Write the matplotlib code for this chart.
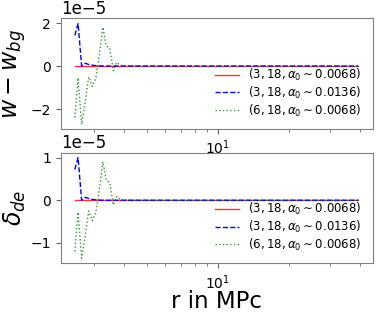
import matplotlib
matplotlib.use("Agg")
import matplotlib.pyplot as plt

# radii (MPc)
r = [2.48, 2.56, 2.65, 2.75, 2.84, 2.94, 3.04, 3.15, 3.26, 3.37, 3.49, 3.61,
     3.73, 3.86, 4.00, 4.14, 4.3, 4.6, 5.0, 5.5, 6.0, 7.0, 8.0, 9.0, 10.0,
     12.0, 14.0, 17.0, 20.0, 24.0, 28.0, 33.0, 39.4]

labels = [r"$(3, 18, \alpha_0 \sim 0.0068)$",
          r"$(3, 18, \alpha_0 \sim 0.0136)$",
          r"$(6, 18, \alpha_0 \sim 0.0068)$"]

# w - w_bg (units of 1e-5)
w_red = [0.0] * 33
w_blue = [1.42, 1.98, 0.0, 0.13, 0.07, 0.04, 0.02, 0.01] + [0.0] * 25
w_green = [-2.4, -0.55, -2.7, -1.6, -0.5, -0.95, -0.6, 0.5, 1.8, 0.94, 0.82,
           -0.22, 0.17, 0.05, -0.02, 0.03] + [0.0] * 17

# delta_de (units of 1e-5)
d_red = [0.0] * 33
d_blue = [0.72, 1.0, 0.0, 0.07, 0.04, 0.02, 0.01, 0.005] + [0.0] * 25
d_green = [-1.2, -0.28, -1.36, -0.8, -0.25, -0.48, -0.3, 0.25, 0.9, 0.47, 0.41,
           -0.11, 0.085, 0.025, -0.01, 0.015] + [0.0] * 17

scale = 1e-5
fig = plt.figure(figsize=(3.79, 3.12), dpi=100)
ax1 = fig.add_axes([0.160, 0.586, 0.823, 0.355])
ax2 = fig.add_axes([0.160, 0.156, 0.823, 0.355])

for ax, ys, ylab in [(ax1, (w_red, w_blue, w_green), r"$w - w_{bg}$"),
                     (ax2, (d_red, d_blue, d_green), r"$\delta_{de}$")]:
    ax.plot(r, [v * scale for v in ys[0]], color="red", ls="-", lw=1, alpha=0.8, label=labels[0])
    ax.plot(r, [v * scale for v in ys[1]], color="blue", ls="--", lw=1, label=labels[1])
    ax.plot(r, [v * scale for v in ys[2]], color="green", ls=":", lw=1, alpha=0.8, label=labels[2])
    ax.set_xscale("log")
    ax.set_ylabel(ylab, fontsize=17, labelpad=2)
    ax.tick_params(labelsize=10, colors="black")
    ax.tick_params(which="both", color="0.4")
    ax.yaxis.get_offset_text().set_fontsize(12)
    for s in ax.spines.values():
        s.set_color("0.5")
    ax.legend(loc="lower right", fontsize=8.5, frameon=False, labelspacing=0.15)

ax1.set_yticks([-2e-5, 0, 2e-5])
ax2.set_yticks([-1e-5, 0, 1e-5])
ax2.set_xlabel("r in MPc", fontsize=16.5, labelpad=-1)
fig.align_ylabels([ax1, ax2])

fig.savefig("out.png", dpi=100)
